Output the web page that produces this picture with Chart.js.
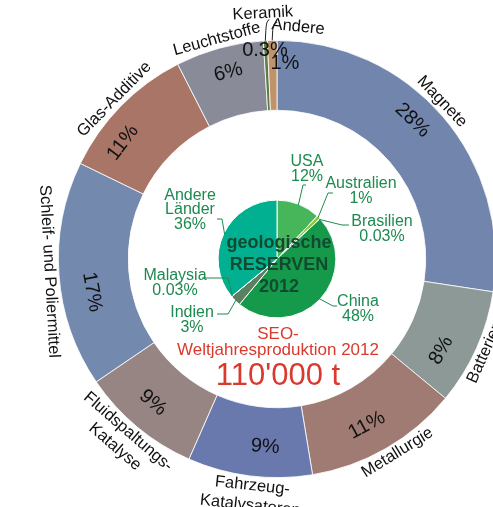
<!DOCTYPE html>
<html>
<head>
<meta charset="utf-8">
<script src="https://cdn.jsdelivr.net/npm/chart.js@4.4.1/dist/chart.umd.min.js"></script>
<style>
    html, body { margin: 0; padding: 0; background: #ffffff; overflow: hidden; }
    #wrap { position: absolute; left: 0; top: 0; width: 554px; height: 518px; }
</style>
</head>
<body>
<div id="wrap"><canvas id="seoChart" width="554" height="518"></canvas></div>
<script>
const useCategories = ['Magnete', 'Batterien', 'Metallurgie', 'Fahrzeug-\nKatalysatoren', 'Fluidspaltungs-\nKatalyse',
    'Schleif- und Poliermittel', 'Glas-Additive', 'Leuchtstoffe', 'Keramik', 'Andere'];
const useShares = [27.4, 8.6, 11.4, 9.2, 8.9, 16.7, 10.3, 6.5, 0.3, 0.7];
const usePctLabels = ['28%', '8%', '11%', '9%', '9%', '17%', '11%', '6%', '0.3%', '1%'];
const useColors = ['#7185ad', '#8c9996', '#a07b74', '#6979ae', '#978583', '#7489ae', '#a87567', '#898b99', '#5f7d45', '#c0936b'];

// Inner pie: geological reserves 2012
const reserveCountries = ['USA', 'Australien', 'Brasilien', 'China', 'Indien', 'Malaysia', 'Andere\nLänder'];
const reserveShares = [12, 1, 0.03, 48, 3, 0.03, 36];
const reservePctLabels = ['12%', '1%', '0.03%', '48%', '3%', '0.03%', '36%'];
const reserveColors = ['#47b65b', '#8dc640', '#b5d88a', '#159a4c', '#5a8060', '#6f8f6a', '#00b090'];

const FONT = '"Liberation Sans", Arial, Helvetica, sans-serif';

// small angle nudges (degrees) and radii for the ring texts
const nameNudge = [-3, 0, -2, -1, 1, 1, 0, 0];
const pctNudge = [-5, 5, 1.5, -3.6, 1, -6, -7.4, 0.7];
const pctRadius = [194, 188, 189, 188, 190, 188, 193, 193];

// label placement for the thin slices at the top (degrees from 12 o'clock)
const ringSpecial = {
    8: { labelDeg: -3.3, labelR: 246, labelRot: -3, pctDeg: -3.3, pctR: 209, leadDx: 4, leadDy: -21 },
    9: { labelDeg: 5.2, labelR: 233, labelRot: 5.5, pctDeg: 2.3, pctR: 196, leadDx: 5, leadDy: -18 }
};

// text block / leader elbow / leader end, relative to the chart centre
const pieLabelPos = [
    { text: [30, -90], elbow: [26, -74], end: [29, -74] },
    { text: [84, -68], elbow: [51, -66], end: [56, -66] },
    { text: [105, -30], elbow: [65, -34], end: [72, -34] },
    { text: [81, 50], elbow: [56, 47], end: [60, 47] },
    { text: [-85, 61], elbow: [-49, 55], end: [-60, 55] },
    { text: [-102, 24], elbow: [-49, 19], end: [-75, 19] },
    { text: [-87, -49], elbow: [-55, -40], end: [-60, -40] }
];

function tangentRotation(mid) {
    let t = mid + Math.PI / 2;
    t = ((t % (2 * Math.PI)) + 2 * Math.PI) % (2 * Math.PI);
    if (t > Math.PI / 2 && t < Math.PI * 1.5) return t - Math.PI;
    return t;
}

function drawRotatedLines(ctx, lines, x, y, rot, lh) {
    ctx.save();
    ctx.translate(x, y);
    ctx.rotate(rot);
    lines.forEach((line, i) => {
        ctx.fillText(line, 0, (i - (lines.length - 1) / 2) * lh);
    });
    ctx.restore();
}

const ringLabels = {
    id: 'ringLabels',
    afterDatasetsDraw(chart) {
        const ctx = chart.ctx;
        const ring = chart.getDatasetMeta(0).data;
        const pie = chart.getDatasetMeta(2).data;
        const cx = ring[0].x, cy = ring[0].y;
        const rad = d => d * Math.PI / 180;
        const degToMid = d => rad(d) - Math.PI / 2;

        ctx.save();
        ctx.textAlign = 'center';
        ctx.textBaseline = 'middle';
        ctx.fillStyle = '#111111';

        // Outer ring: category names outside, shares inside
        ring.forEach((arc, i) => {
            const mid = (arc.startAngle + arc.endAngle) / 2;
            const sp = ringSpecial[i];
            const lines = useCategories[i].split('\n');
            ctx.font = '16.5px ' + FONT;
            if (sp) {
                const lm = degToMid(sp.labelDeg);
                drawRotatedLines(ctx, lines, cx + sp.labelR * Math.cos(lm), cy + sp.labelR * Math.sin(lm), rad(sp.labelRot), 18);
                // leader from the slice up to its name
                const ex = cx + arc.outerRadius * Math.cos(mid), ey = cy + arc.outerRadius * Math.sin(mid);
                ctx.strokeStyle = '#222222';
                ctx.lineWidth = 1;
                ctx.beginPath();
                ctx.moveTo(ex, ey);
                ctx.lineTo(ex + 0.5, ey - 10);
                ctx.quadraticCurveTo(ex + 1, ey + sp.leadDy, ex + sp.leadDx, ey + sp.leadDy);
                ctx.stroke();
                const pm = degToMid(sp.pctDeg);
                ctx.font = '20px ' + FONT;
                ctx.fillText(usePctLabels[i], cx + sp.pctR * Math.cos(pm), cy + sp.pctR * Math.sin(pm));
                return;
            }
            const nm = mid + rad(nameNudge[i]);
            const r = 228 + (lines.length - 1) * 10;
            drawRotatedLines(ctx, lines, cx + r * Math.cos(nm), cy + r * Math.sin(nm), tangentRotation(nm), 20);
            const pm = mid + rad(pctNudge[i]);
            ctx.font = '20px ' + FONT;
            drawRotatedLines(ctx, [usePctLabels[i]], cx + pctRadius[i] * Math.cos(pm), cy + pctRadius[i] * Math.sin(pm), tangentRotation(pm), 20);
        });

        // Inner pie: country labels with leaders
        ctx.font = '16px ' + FONT;
        ctx.fillStyle = '#1d8a4f';
        ctx.strokeStyle = '#1d8a4f';
        ctx.lineWidth = 1;
        pie.forEach((arc, i) => {
            const mid = (arc.startAngle + arc.endAngle) / 2;
            const p = pieLabelPos[i];
            const sx = cx + (arc.outerRadius - 1) * Math.cos(mid), sy = cy + (arc.outerRadius - 1) * Math.sin(mid);
            ctx.beginPath();
            ctx.moveTo(sx, sy);
            ctx.lineTo(cx + p.elbow[0], cy + p.elbow[1]);
            ctx.lineTo(cx + p.end[0], cy + p.end[1]);
            ctx.stroke();
            const lines = reserveCountries[i].split('\n').concat(reservePctLabels[i]);
            drawRotatedLines(ctx, lines, cx + p.text[0], cy + p.text[1], 0, 14.5);
        });

        // Centre title
        ctx.fillStyle = '#114a2e';
        ctx.font = 'bold 18px ' + FONT;
        ctx.fillText('geologische', cx + 2, cy - 16);
        ctx.fillText('RESERVEN', cx + 2, cy + 6);
        ctx.fillText('2012', cx + 2, cy + 28);

        // World production caption
        ctx.fillStyle = '#d93a2e';
        ctx.font = '17px ' + FONT;
        ctx.fillText('SEO-', cx + 1, cy + 75);
        ctx.fillText('Weltjahresproduktion 2012', cx + 1, cy + 91);
        ctx.font = '31px ' + FONT;
        ctx.fillText("110'000 t", cx + 1, cy + 117);
        ctx.restore();
    }
};

new Chart(document.getElementById('seoChart'), {
    type: 'doughnut',
    data: {
        labels: useCategories,
        datasets: [
            {
                data: useShares,
                backgroundColor: useColors,
                borderColor: '#ffffff',
                borderWidth: 0.8,
                weight: 70
            },
            {
                // empty band between the ring and the pie
                data: [1],
                backgroundColor: 'rgba(0,0,0,0)',
                borderWidth: 0,
                weight: 90
            },
            {
                data: reserveShares,
                backgroundColor: reserveColors,
                borderColor: '#ffffff',
                borderWidth: 1,
                weight: 59
            }
        ]
    },
    options: {
        responsive: false,
        animation: false,
        cutout: 0,
        layout: { padding: { left: 58, right: 58, top: 40, bottom: 40 } },
        plugins: {
            legend: { display: false },
            tooltip: { enabled: false }
        }
    },
    plugins: [ringLabels]
});
</script>
</body>
</html>
